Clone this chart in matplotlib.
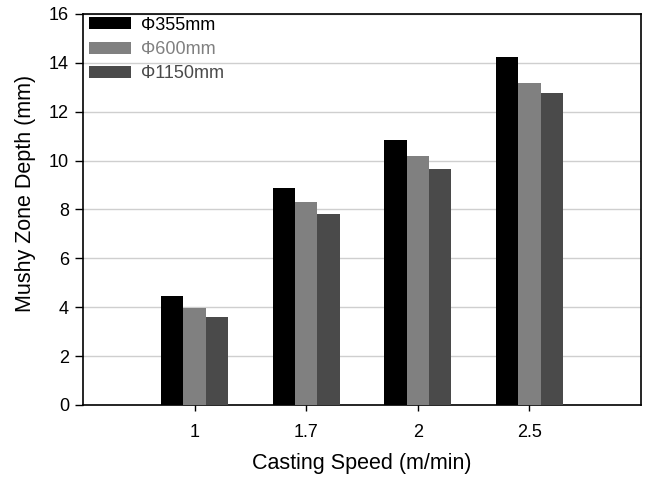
import matplotlib
matplotlib.use("Agg")
import matplotlib.pyplot as plt
import numpy as np

##############################################################################
# data

speeds = ["1", "1.7", "2", "2.5"]
series_labels = ["\u03a6355mm", "\u03a6600mm", "\u03a61150mm"]
d355 = [4.45, 8.88, 10.84, 14.22]
d600 = [3.97, 8.30, 10.18, 13.19]
d1150 = [3.62, 7.83, 9.65, 12.78]
colors = ["#000000", "#808080", "#4a4a4a"]

##############################################################################
# matplotlib configuration

fontsize = 13
params = {'font.family': ['Liberation Sans', 'DejaVu Sans'],
          'axes.labelsize': 15.5,
          'xtick.labelsize': fontsize,
          'ytick.labelsize': fontsize,
          'legend.fontsize': 13,
          }
matplotlib.rcParams.update(params)

fig = plt.figure(figsize=(6.46, 4.79), dpi=100)
ax = fig.add_axes([0.1285, 0.1545, 0.9923 - 0.1285, 0.9708 - 0.1545])

x = np.arange(1, len(speeds) + 1)
width = 0.2
for i, (vals, lab, c) in enumerate(zip([d355, d600, d1150], series_labels, colors)):
    ax.bar(x + (i - 1) * width, vals, width, color=c, label=lab, zorder=3)

ax.set_xlim(0, 5)
ax.set_ylim(0, 16)
ax.set_xticks(x)
ax.set_xticklabels(speeds)
ax.set_yticks(np.arange(0, 17, 2))
ax.yaxis.grid(True, color="#cfcfcf", linewidth=1.0, zorder=0)
ax.set_axisbelow(True)

for s in ax.spines.values():
    s.set_linewidth(1.2)
ax.tick_params(axis='y', direction='out', length=6, width=1, pad=4)
ax.tick_params(axis='x', direction='out', length=4, width=1, pad=10)

ax.set_xlabel("Casting Speed (m/min)", labelpad=8)
ax.set_ylabel("Mushy Zone Depth (mm)")
ax.yaxis.set_label_coords(-0.084, 0.542)

ax.legend(loc='upper left', bbox_to_anchor=(0.011, 0.993), frameon=False,
          labelcolor='linecolor', handlelength=2.3, handleheight=0.65,
          handletextpad=0.55, labelspacing=0.4, borderaxespad=0.0,
          borderpad=0.0)

fig.savefig("out.png", dpi=100)
